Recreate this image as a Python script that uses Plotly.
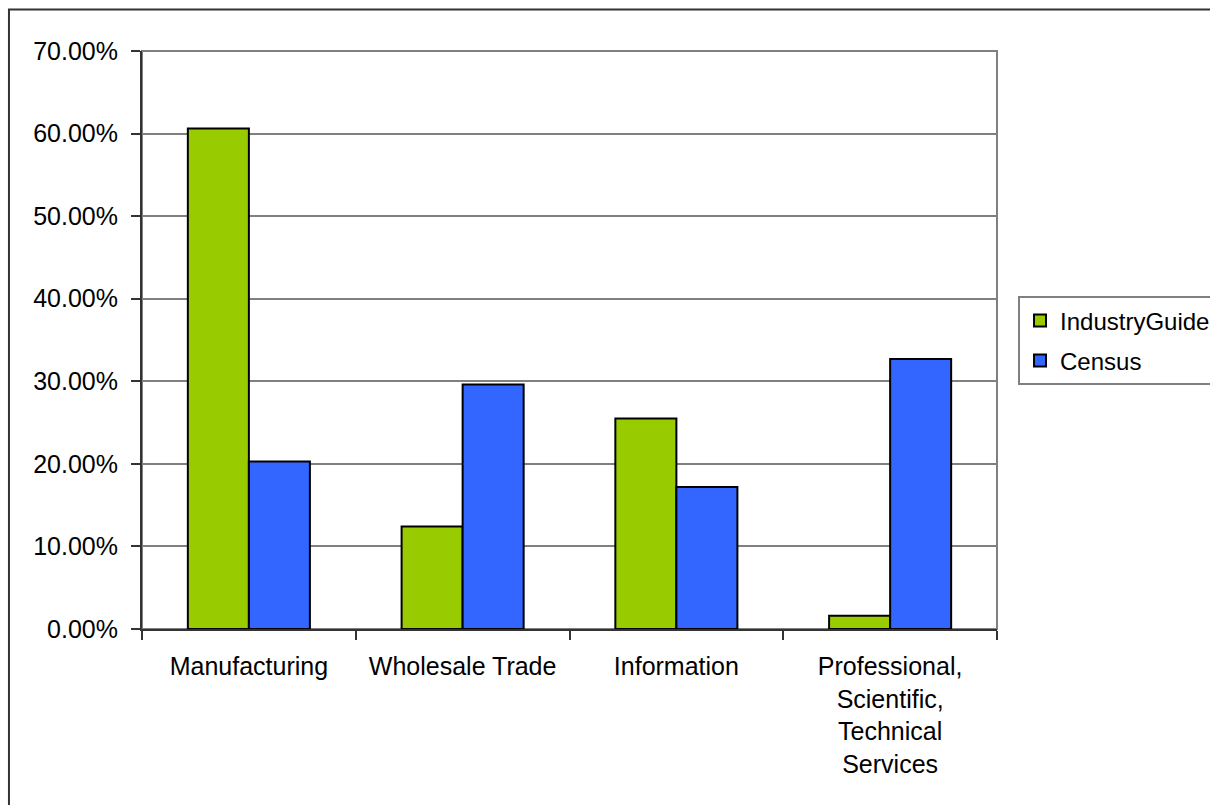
import plotly.graph_objects as go

# Industry share comparison: IndustryGuide vs. Census
categories = [
    "Manufacturing",
    "Wholesale Trade",
    "Information",
    "Professional,<br>Scientific,<br>Technical<br>Services",
]
industry_guide = [0.606, 0.124, 0.255, 0.016]
census = [0.203, 0.296, 0.172, 0.327]
y_ticks = [0.0, 0.1, 0.2, 0.3, 0.4, 0.5, 0.6, 0.7]

FONT = "Liberation Sans, Arial, sans-serif"

fig = go.Figure()
fig.add_trace(go.Bar(
    name="IndustryGuide", x=categories, y=industry_guide, legendgroup="ig",
    marker=dict(color="#99CC00", line=dict(color="#000000", width=2)),
))
fig.add_trace(go.Bar(
    name="Census", x=categories, y=census, legendgroup="cs",
    marker=dict(color="#3366FF", line=dict(color="#000000", width=2)),
))

# plot-area frame (gray) and outer chart frame (dark)
fig.add_shape(type="rect", xref="paper", yref="paper", x0=0, x1=1, y0=0, y1=1,
              line=dict(color="#808080", width=2), layer="below")
fig.add_shape(type="rect", xref="paper", yref="paper",
              x0=-0.1556, x1=1.4, y0=-0.5, y1=1.0717,
              line=dict(color="#333333", width=2), layer="above")

fig.update_layout(
    width=1210, height=805,
    margin=dict(l=142, r=213, t=51, b=176, autoexpand=False),
    paper_bgcolor="white", plot_bgcolor="white",
    font=dict(family=FONT, size=25, color="#000000"),
    barmode="group", bargap=0.429, bargroupgap=0,
    showlegend=True,
    legend=dict(
        x=1.0246, y=0.5756, xanchor="left", yanchor="top",
        bordercolor="#808080", borderwidth=2, bgcolor="white",
        font=dict(family=FONT, size=24, color="#000000"),
        itemwidth=30, tracegroupgap=6,
    ),
    xaxis=dict(
        showgrid=False, showline=True, linecolor="#333333", linewidth=2,
        ticks="outside", ticklen=9, tickcolor="#333333", tickwidth=2,
        tickson="boundaries", zeroline=False, ticklabelstandoff=14,
        tickfont=dict(family=FONT, size=25),
    ),
    yaxis=dict(
        range=[0, 0.7], tickvals=y_ticks, tickformat=".2%",
        showgrid=True, gridcolor="#808080", gridwidth=2,
        showline=True, linecolor="#333333", linewidth=2,
        ticks="outside", ticklen=9, tickcolor="#333333", tickwidth=2,
        zeroline=False, ticklabelstandoff=8,
        tickfont=dict(family=FONT, size=25),
    ),
)

fig.write_html("out.html")
